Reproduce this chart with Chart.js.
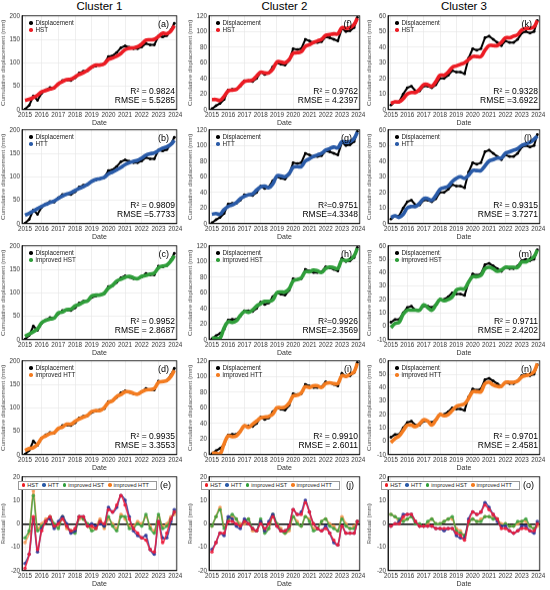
<!DOCTYPE html>
<html>
<head>
<meta charset="UTF-8">
<title>Cluster displacement fits</title>
<script src="https://cdn.jsdelivr.net/npm/chart.js@4.4.1/dist/chart.umd.min.js"></script>
<style>
body { margin: 0; background: #fff; font-family: "Liberation Sans", Arial, sans-serif; }
#wrap { position: relative; width: 550px; height: 590px; overflow: hidden; }
.box { position: absolute; }
.txt { position: absolute; white-space: nowrap; color: #000; }
.title { font-size: 11.5px; }
.tag { font-size: 9px; }
.stat { font-size: 8.5px; line-height: 9px; text-align: right; }
.leg { font-size: 6.3px; line-height: 7px; color: #222; }
.leg i { display: inline-block; width: 3.5px; height: 3.5px; border-radius: 50%; margin: 0 3px 0 0; vertical-align: 0.3px; }
.rleg { font-size: 5.6px; line-height: 7px; color: #222; background: #fff; border: 0.6px solid #999; padding: 0 3px; }
.rleg span { margin-right: 4px; }
.rleg i { display: inline-block; width: 3.5px; height: 3.5px; border-radius: 50%; margin-right: 2px; vertical-align: 0.3px; }
</style>
</head>
<body>
<div id="wrap"></div>
<script>
// sample dates (decimal years) and axis ticks
const dates = [2015, 2015.25, 2015.5, 2015.75, 2016, 2016.25, 2016.5, 2016.75, 2017, 2017.25, 2017.5, 2017.75,
  2018, 2018.25, 2018.5, 2018.75, 2019, 2019.25, 2019.5, 2019.75, 2020, 2020.25, 2020.5, 2020.75,
  2021, 2021.25, 2021.5, 2021.75, 2022, 2022.25, 2022.5, 2022.75, 2023, 2023.25, 2023.5, 2023.75, 2023.95];
const yearTicks = [2015, 2016, 2017, 2018, 2019, 2020, 2021, 2022, 2023, 2024];

// cluster 1 (mm)
const disp1 = [1, 9, 29, 20, 35, 42, 47, 46, 55, 62, 63, 62, 68, 78, 82, 83, 90, 93, 96, 98, 113, 115, 122, 132, 136, 133, 130, 130, 134, 141, 138, 138, 157, 155, 158, 170, 184];
const hst1 = [20, 22, 26, 31, 38, 41, 44, 47, 55, 60, 64, 65, 70, 75, 79, 84, 91, 95, 95, 98, 107, 110, 114, 120, 128, 131, 132, 134, 140, 148, 149, 150, 156, 163, 162, 168, 179];
const htt1 = [18, 22, 27, 32, 37, 41, 45, 48, 54, 59, 63, 66, 71, 75, 79, 84, 90, 94, 96, 99, 106, 110, 115, 120, 126, 130, 133, 135, 140, 146, 149, 151, 156, 161, 164, 169, 178];
const ihst1 = [7, 12, 17, 23, 36, 41, 44, 46, 57, 59, 64, 65, 72, 75, 80, 83, 93, 95, 95, 99, 110, 116, 125, 129, 133, 135, 132, 130, 135, 137, 140, 142, 153, 157, 159, 168, 179];
const ihtt1 = [9, 13, 15, 22, 35, 40, 45, 47, 56, 59, 65, 65, 71, 76, 80, 84, 92, 94, 94, 100, 111, 115, 124, 128, 134, 134, 131, 129, 134, 138, 139, 141, 154, 156, 158, 167, 180];

// cluster 2 (mm)
const disp2 = [1, 5, 8, 13, 25, 26, 26, 30, 37, 37, 36, 40, 48, 45, 47, 55, 60, 58, 57, 63, 78, 77, 78, 90, 88, 86, 86, 87, 93, 92, 90, 88, 104, 100, 101, 105, 118];
const hst2 = [13, 13, 12, 17, 24, 25, 26, 31, 36, 37, 38, 43, 48, 47, 47, 52, 61, 61, 60, 64, 72, 73, 74, 81, 83, 86, 88, 90, 95, 96, 97, 97, 105, 104, 105, 109, 117];
const htt2 = [12, 13, 12, 18, 22, 24, 27, 32, 35, 37, 38, 43, 47, 48, 46, 51, 61, 61, 60, 64, 72, 73, 73, 80, 83, 86, 88, 90, 94, 96, 98, 97, 105, 104, 105, 109, 117];
const ihst2 = [2, 2, 2, 15, 23, 22, 24, 31, 36, 35, 38, 43, 46, 49, 49, 51, 60, 61, 61, 65, 75, 77, 79, 87, 87, 89, 88, 86, 91, 93, 92, 91, 102, 101, 103, 107, 117];
const ihtt2 = [2, 2, 1, 14, 24, 23, 24, 30, 37, 35, 39, 43, 47, 48, 49, 52, 60, 60, 61, 66, 75, 76, 79, 87, 86, 88, 88, 86, 91, 92, 91, 91, 101, 100, 103, 106, 117];

// cluster 3 (mm)
const disp3 = [3, 5, 5, 10, 14, 15, 12, 12, 15, 15, 14, 16, 20, 20, 22, 25, 24, 24, 23, 33, 39, 38, 39, 46, 47, 45, 43, 41, 44, 43, 43, 45, 49, 50, 49, 50, 57];
const hst3 = [4, 5, 5, 7, 10, 11, 11, 13, 16, 16, 15, 18, 22, 22, 24, 27, 28, 29, 30, 32, 34, 34, 34, 38, 41, 41, 41, 43, 46, 46, 47, 48, 51, 52, 52, 53, 57];
const htt3 = [4, 5, 4, 6, 10, 11, 11, 13, 16, 16, 15, 18, 22, 23, 24, 27, 29, 30, 29, 31, 34, 34, 34, 37, 40, 41, 42, 42, 45, 46, 47, 48, 50, 51, 52, 54, 56];
const ihst3 = [-1, 2, 3, 9, 12, 12, 12, 12, 16, 14, 12, 16, 20, 19, 20, 22, 27, 28, 28, 33, 37, 37, 38, 43, 44, 43, 41, 42, 44, 44, 44, 44, 48, 48, 50, 52, 57];
const ihtt3 = [-1, 2, 4, 8, 12, 12, 11, 13, 16, 15, 12, 16, 20, 19, 20, 23, 26, 27, 28, 32, 37, 37, 37, 43, 44, 42, 41, 41, 44, 44, 44, 45, 48, 49, 50, 52, 58];

const clusterNames = ['Cluster 1', 'Cluster 2', 'Cluster 3'];
const modelNames = ['HST', 'HTT', 'improved HST', 'improved HTT'];
const modelColors = ['#ec1c24', '#2a5ba8', '#2f9e3a', '#f47c20'];
const residColors = ['rgba(236,28,60,0.85)', 'rgba(40,50,150,0.8)', 'rgba(60,160,60,0.8)', 'rgba(245,150,80,0.8)'];
const displacement = [disp1, disp2, disp3];
const fits = [[hst1, htt1, ihst1, ihtt1], [hst2, htt2, ihst2, ihtt2], [hst3, htt3, ihst3, ihtt3]];

// y axis ranges per column, rows 1-4
const yTicksCol = [[0, 50, 100, 150, 200], [0, 20, 40, 60, 80, 100, 120], [0, 10, 20, 30, 40, 50, 60]];
const yTicksC3Low = [-10, 0, 10, 20, 30, 40, 50, 60];
const residTicks = [-20, -10, 0, 10, 20];

const panelTags = [['(a)', '(b)', '(c)', '(d)', '(e)'], ['(f)', '(g)', '(h)', '(i)', '(j)'], ['(k)', '(l)', '(m)', '(n)', '(o)']];
const r2Text = [
  ['R² = 0.9824', 'R² = 0.9809', 'R² = 0.9952', 'R² = 0.9935'],
  ['R² = 0.9762', 'R²=0.9751', 'R²=0.9926', 'R² = 0.9910'],
  ['R² = 0.9328', 'R² = 0.9315', 'R² = 0.9711', 'R² = 0.9701']];
const rmseText = [
  ['RMSE = 5.5285', 'RMSE =5.7733', 'RMSE = 2.8687', 'RMSE = 3.3553'],
  ['RMSE = 4.2397', 'RMSE=4.3348', 'RMSE=2.3569', 'RMSE = 2.6011'],
  ['RMSE =3.6922', 'RMSE = 3.7271', 'RMSE = 2.4202', 'RMSE = 2.4581']];

// layout of plot areas in the page
const PL = [22, 209, 388], PW = [155, 151, 152];
const PT = [16, 130, 246, 361, 477], PH = 93;
const FONT = '"Liberation Sans", Arial, sans-serif';
const wrap = document.getElementById('wrap');

const frame = {
  id: 'frame',
  afterDraw(c) {
    const { ctx, chartArea: a } = c;
    ctx.save();
    ctx.strokeStyle = '#000';
    ctx.lineWidth = 0.8;
    ctx.strokeRect(a.left, a.top, a.right - a.left, a.bottom - a.top);
    ctx.restore();
  }
};

function pts(arr) {
  return dates.map((d, i) => ({ x: d, y: arr[i] }));
}

function addText(cls, html, css) {
  const d = document.createElement('div');
  d.className = 'txt ' + cls;
  d.innerHTML = html;
  Object.assign(d.style, css);
  wrap.appendChild(d);
  return d;
}

function makePanel(col, row, datasets, yTicks, yTitle, zeroLine) {
  const box = document.createElement('div');
  box.className = 'box';
  Object.assign(box.style, { left: '0px', top: '0px', width: '200px', height: '130px' });
  const cv = document.createElement('canvas');
  box.appendChild(cv);
  wrap.appendChild(box);
  const chart = new Chart(cv, {
    type: 'line',
    data: { datasets: datasets },
    options: {
      responsive: true,
      maintainAspectRatio: false,
      animation: false,
      layout: { padding: { top: 1, right: 1, left: 0, bottom: 0 } },
      plugins: { legend: { display: false }, tooltip: { enabled: false } },
      scales: {
        x: {
          type: 'linear', min: 2014.82, max: 2024.1,
          afterBuildTicks: s => { s.ticks = yearTicks.map(v => ({ value: v })); },
          afterFit: s => { s.height = 17; },
          ticks: { font: { size: 6.3, family: FONT }, color: '#333', padding: 2, maxRotation: 0, autoSkip: false, callback: v => String(v) },
          grid: { color: '#e4e4e4', lineWidth: 0.6, drawTicks: false },
          border: { color: '#000', width: 0.8 },
          title: { display: true, text: 'Date', color: '#333', font: { size: 7, family: FONT }, padding: { top: 0, bottom: 0 } }
        },
        y: {
          min: yTicks[0], max: yTicks[yTicks.length - 1],
          afterBuildTicks: s => { s.ticks = yTicks.map(v => ({ value: v })); },
          afterFit: s => { s.width = 22; },
          ticks: { font: { size: 6.3, family: FONT }, color: '#333', padding: 2 },
          grid: {
            drawTicks: false,
            color: c => (zeroLine && c.tick && c.tick.value === 0) ? '#000' : '#e4e4e4',
            lineWidth: c => (zeroLine && c.tick && c.tick.value === 0) ? 1.4 : 0.6
          },
          border: { color: '#000', width: 0.8 },
          title: { display: true, text: yTitle, color: '#444', font: { size: 6.2, family: FONT }, padding: { top: 0, bottom: 1 } }
        }
      }
    },
    plugins: [frame]
  });
  const ca = chart.chartArea;
  const ml = ca.left, mt = ca.top, mr = 200 - ca.right, mb = 130 - ca.bottom;
  const W = ml + PW[col] + mr, H = mt + PH + mb;
  Object.assign(box.style, { left: (PL[col] - ml) + 'px', top: (PT[row] - mt) + 'px', width: W + 'px', height: H + 'px' });
  chart.resize(W, H);
  return chart;
}

for (let col = 0; col < 3; col++) {
  const D = displacement[col];
  addText('title', clusterNames[col], { left: (PL[col] + PW[col] / 2 - 40) + 'px', width: '80px', textAlign: 'center', top: '0px' });

  for (let m = 0; m < 4; m++) {
    const yt = (col === 2 && m >= 2) ? yTicksC3Low : yTicksCol[col];
    const ds = [
      { label: modelNames[m], data: pts(fits[col][m]), borderColor: modelColors[m], backgroundColor: modelColors[m],
        borderWidth: 3.6, pointRadius: 0, tension: 0.4, order: 0 },
      { label: 'Displacement', data: pts(D), borderColor: '#000', backgroundColor: '#000',
        borderWidth: 2, pointRadius: 1.4, pointBorderWidth: 0, tension: 0, order: 1 }
    ];
    makePanel(col, m, ds, yt, 'Cumulative displacement (mm)', false);

    const L = PL[col], T = PT[m], R = PL[col] + PW[col], B = PT[m] + PH;
    addText('leg', '<div><i style="background:#000"></i>Displacement</div><div><i style="background:' + modelColors[m] + '"></i>' + modelNames[m] + '</div>',
      { left: (L + 7) + 'px', top: (T + 3) + 'px' });
    addText('tag', panelTags[col][m], { right: (550 - R + 8) + 'px', top: (T + 3) + 'px' });
    addText('stat', r2Text[col][m] + '<br>' + rmseText[col][m], { right: (550 - R + 2) + 'px', top: (B - 22) + 'px' });
  }

  // residual panel: observed minus fitted
  const rds = fits[col].map((f, m) => ({
    label: modelNames[m],
    data: pts(D.map((v, i) => v - f[i])),
    borderColor: residColors[m], backgroundColor: residColors[m],
    borderWidth: 1.6, pointRadius: 1.8, pointBorderWidth: 0, tension: 0.3
  }));
  makePanel(col, 4, rds, residTicks, 'Residual (mm)', true);
  const L = PL[col], T = PT[4], R = PL[col] + PW[col];
  let html = '';
  modelNames.forEach((n, m) => { html += '<span><i style="background:' + modelColors[m] + '"></i>' + n + '</span>'; });
  addText('rleg', html, { right: (550 - R + 20) + 'px', top: (T + 4) + 'px' });
  addText('tag', panelTags[col][4], { right: (550 - R + 6) + 'px', top: (T + 3) + 'px' });
}
</script>
</body>
</html>
